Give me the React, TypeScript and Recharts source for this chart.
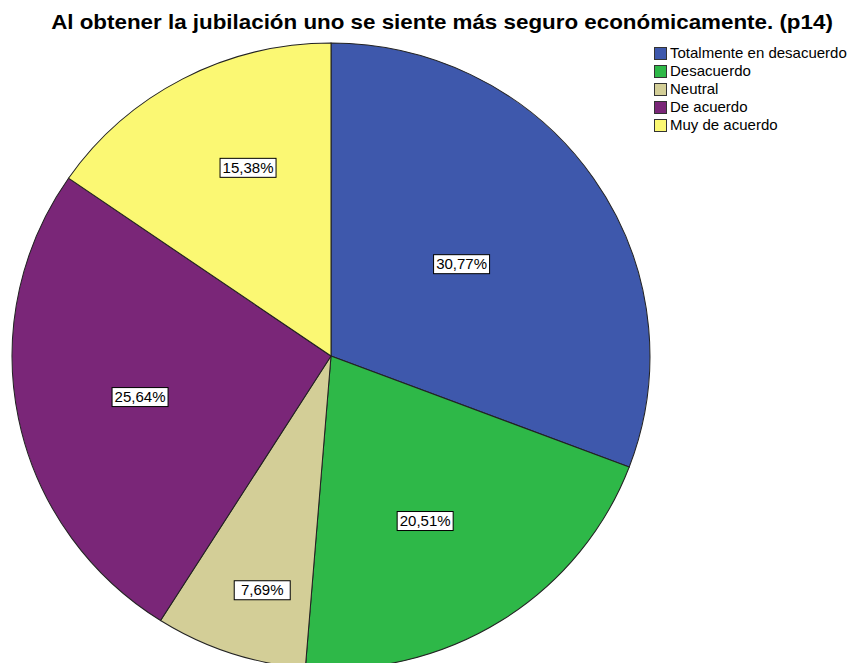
import React from "react";
import { PieChart, Pie, Cell, Legend, Sector } from "recharts";

const categories = ["Totalmente en desacuerdo", "Desacuerdo", "Neutral", "De acuerdo", "Muy de acuerdo"];
const counts = [12, 8, 3, 10, 6];
const colors = ["#3E58AC", "#2EB848", "#D3CE97", "#7A2678", "#FBF873"];
const labelRadiusFactor = [0.51, 0.607, 0.78, 0.624, 0.657];
const labelAngleShift = [-0.5, 2.6, -2.1, -0.6, 3.9];
const title = "Al obtener la jubilación uno se siente más seguro económicamente. (p14)";

const data = categories.map((name, i) => ({ name, value: counts[i] }));

const RAD = Math.PI / 180;
const FONT = "'Liberation Sans', Arial, sans-serif";
const SCALE_X = 1.019;

const renderLabel = (props: any) => {
  const { cx, cy, midAngle, outerRadius, percent, index } = props;
  const r = outerRadius * labelRadiusFactor[index];
  const a = midAngle - labelAngleShift[index];
  const x = cx + r * Math.cos(-a * RAD);
  const y = cy + r * Math.sin(-a * RAD);
  const txt = (percent * 100).toFixed(2).replace(".", ",") + "%";
  const w = 56;
  const h = 19;
  return (
    <g key={"lbl" + index}>
      <rect x={x - w / 2} y={y - h / 2} width={w} height={h} fill="#ffffff" stroke="#000000" strokeWidth={1} />
      <text x={x} y={y + 5} textAnchor="middle" fontSize={15} fontFamily={FONT} fill="#000">
        {txt}
      </text>
    </g>
  );
};

const renderShape = (props: any) => {
  const { cx, cy } = props;
  return (
    <g transform={`translate(${cx} ${cy}) scale(${SCALE_X} 1) translate(${-cx} ${-cy})`}>
      <Sector {...props} />
    </g>
  );
};

const LegendContent = () => (
  <div style={{ fontFamily: FONT, fontSize: 15, lineHeight: "18px", color: "#000" }}>
    {categories.map((c, i) => (
      <div key={c} style={{ display: "flex", alignItems: "center", height: 18 }}>
        <span
          style={{
            display: "inline-block",
            width: 11,
            height: 11,
            background: colors[i],
            border: "1px solid #333",
            marginRight: 3,
            flexShrink: 0,
          }}
        />
        <span style={{ whiteSpace: "nowrap" }}>{c}</span>
      </div>
    ))}
  </div>
);

export default function App() {
  return (
    <div style={{ position: "absolute", left: 0, top: 0, width: 851, height: 663, background: "#fff", overflow: "hidden" }}>
      <div
        style={{
          position: "absolute",
          left: 442 - 400,
          width: 800,
          top: 9,
          textAlign: "center",
          fontFamily: FONT,
          fontWeight: "bold",
          fontSize: 21,
          lineHeight: "26px",
          color: "#000",
          whiteSpace: "nowrap",
          transform: "scaleX(1.065)",
          transformOrigin: "center",
        }}
      >
        {title}
      </div>
      <PieChart width={851} height={663} style={{ position: "absolute", left: 0, top: 0 }}>
        <Pie
          data={data}
          dataKey="value"
          nameKey="name"
          cx={326}
          cy={351}
          outerRadius={313}
          startAngle={90}
          endAngle={-270}
          stroke="#222"
          strokeWidth={1}
          shape={renderShape}
          label={renderLabel}
          labelLine={false}
          isAnimationActive={false}
        >
          {data.map((d, i) => (
            <Cell key={d.name} fill={colors[i]} />
          ))}
        </Pie>
        <Legend
          layout="vertical"
          verticalAlign="top"
          align="right"
          content={<LegendContent />}
          wrapperStyle={{ position: "absolute", left: 654, top: 44, width: 200 }}
        />
      </PieChart>
    </div>
  );
}
